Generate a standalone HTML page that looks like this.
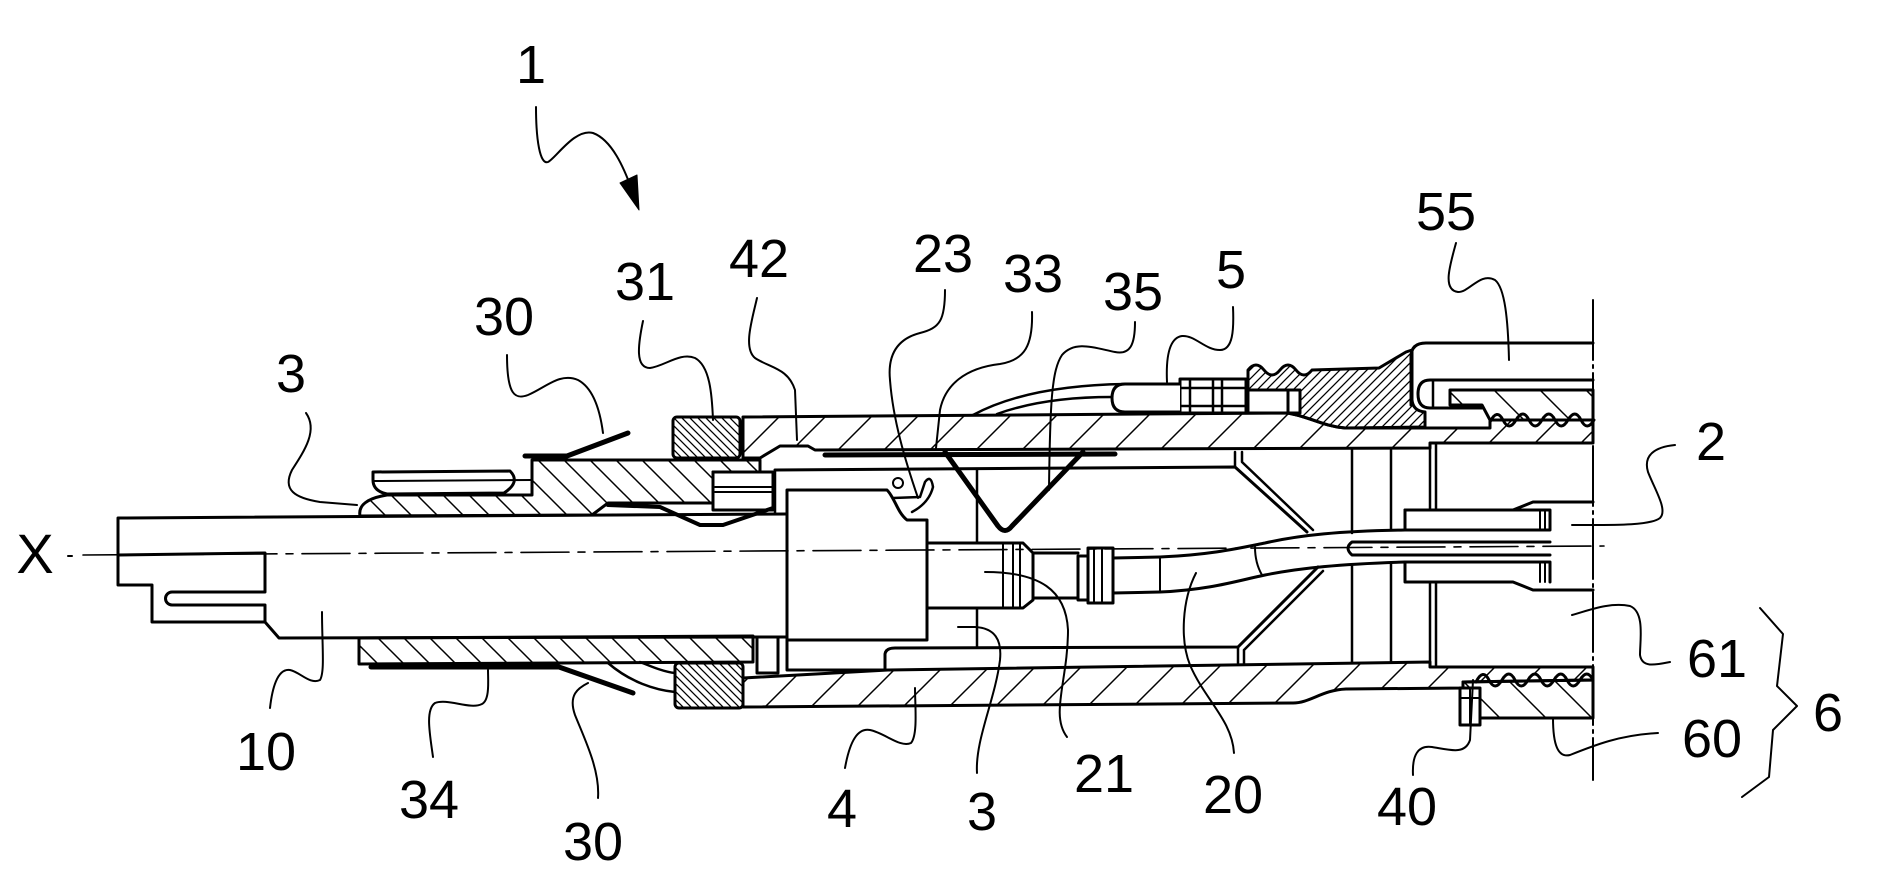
<!DOCTYPE html>
<html><head><meta charset="utf-8"><style>
html,body{margin:0;padding:0;background:#fff;}
svg{display:block;}
text{font-family:"Liberation Sans",Arial,sans-serif;font-size:54px;fill:#000;stroke:none;}
</style></head><body>
<svg width="1882" height="894" viewBox="0 0 1882 894" xmlns="http://www.w3.org/2000/svg">
<defs>
<pattern id="hf" width="46" height="46" patternUnits="userSpaceOnUse"><path d="M-4,4 L4,-4 M0,46 L46,0 M42,50 L50,42" stroke="#000" stroke-width="1.5"/></pattern>
<pattern id="hb" width="46" height="46" patternUnits="userSpaceOnUse"><path d="M0,0 L46,46 M-4,42 L4,50 M42,-4 L50,4" stroke="#000" stroke-width="1.5"/></pattern>
<pattern id="hs" width="26" height="26" patternUnits="userSpaceOnUse"><path d="M0,0 L26,26 M-4,22 L4,30 M22,-4 L30,4" stroke="#000" stroke-width="1.5"/></pattern>
<pattern id="db" width="8" height="8" patternUnits="userSpaceOnUse"><path d="M0,0 L8,8 M-2,6 L2,10 M6,-2 L10,2" stroke="#000" stroke-width="1.3"/></pattern>
<pattern id="df" width="9" height="9" patternUnits="userSpaceOnUse"><path d="M-2,2 L2,-2 M0,9 L9,0 M7,11 L11,7" stroke="#000" stroke-width="1.3"/></pattern>
</defs>
<rect width="1882" height="894" fill="#fff"/>

<g fill="none" stroke="#000" stroke-width="3" stroke-linejoin="round" stroke-linecap="round">
<!-- hatched regions -->
<path fill="url(#hs)" d="M360,516 Q357,500 387,495 L532,495 L532,460 L760,460 L760,472 L713,472 L713,503 L608,503 L592,515 Z"/>
<path fill="url(#hf)" d="M743,417 L1287,413 C1308,416 1322,426 1345,428 L1490,428 L1490,420 L1593,420 L1593,443 L1430,443 L1430,448 L815,450 L808,446 L780,446 L760,458 L743,458 Z"/>
<path fill="url(#df)" d="M1248,413 L1248,370 Q1256,360 1264,370 T1280,370 T1296,370 T1312,370 L1379,368 L1406,352 L1412,350 L1412,400 Q1413,411 1425,412 L1425,427 L1345,428 C1322,426 1308,416 1287,413 Z"/>
<path fill="url(#hb)" d="M1450,390 L1593,390 L1593,420 L1490,420 L1482,405 L1450,405 Z"/>
<path fill="url(#hf)" d="M743,678 L888,670 L1430,662 L1430,667 L1593,667 L1593,680 L1463,682 L1463,688 L1346,689 C1322,690 1310,703 1293,703 L743,707 Z"/>
<path fill="url(#hb)" d="M1463,682 L1593,680 L1593,718 L1463,718 Z"/>
<path fill="url(#hs)" d="M359,638 L753,636 L753,662 L359,664 Z"/>
<rect x="673" y="417" width="67" height="41" rx="4" fill="url(#db)"/>
<rect x="675" y="663" width="68" height="45" rx="4" fill="url(#db)"/>

<!-- tube 10 -->
<path d="M787,514 L118,518 L118,585 L152,585 L152,622 L265,622 L279,638 L787,637"/>
<path d="M118,555 L265,553 L265,592 L172,592 A6.5,6.5 0 0 0 172,605 L265,605 L265,622"/>

<!-- upper plate -->
<path fill="#fff" d="M373,472 L510,471 Q521,482 504,493 L387,494 Q373,491 373,480 Z"/>
<path stroke-width="2" d="M373,481 L532,480"/>

<!-- lug -->
<rect x="713" y="472" width="60" height="38" fill="#fff"/>
<path stroke-width="2" d="M715,487 L773,487 M715,492 L773,492"/>

<!-- nut details -->
<rect x="1248" y="390" width="52" height="23" fill="#fff"/>
<path d="M1288,390 L1288,413"/>
<rect x="1180" y="379" width="66" height="34" fill="#fff"/>
<path stroke-width="2.5" d="M1190,379 L1190,413 M1213,379 L1213,413 M1222,379 L1222,413 M1180,388 L1246,388 M1180,406 L1246,406"/>
<path fill="#fff" d="M1180,384 L1125,384 Q1112,384 1112,398 Q1112,412 1125,412 L1180,412"/>
<path stroke-width="2.5" d="M973,415 C1010,395 1060,385 1125,384 M997,414 C1030,402 1070,397 1112,397"/>

<!-- part 55 -->
<path d="M1411,405 L1411,357 Q1411,343 1426,343 L1593,343"/>
<path d="M1593,380 L1430,380 Q1418,380 1418,394 Q1418,408 1430,408 L1482,408"/>
<path stroke-width="2.5" d="M1433,381 L1433,408"/>
<path d="M1490,422 Q1497,408 1503,420 T1516,420 T1529,420 T1542,420 T1555,420 T1568,420 T1581,420 T1594,420"/>
<path d="M1476,682 Q1483,668 1489,680 T1502,680 T1515,680 T1528,680 T1541,680 T1554,680 T1567,680 T1580,680 T1593,680"/>
<rect x="1460" y="688" width="20" height="37" fill="#fff"/>
<path stroke-width="2" d="M1470,688 L1470,725 M1460,698 L1480,698"/>

<!-- thick springs -->
<path stroke-width="5" d="M371,667 L559,667 L633,693"/>
<path stroke-width="5" d="M525,456 L567,456 L628,433"/>
<path stroke-width="4" d="M608,505 L660,507 L700,525 L723,525 L773,508"/>
<path stroke-width="5" d="M825,455 L1115,454"/>
<path stroke-width="5" d="M945,452 L998,526 Q1005,535 1012,526 L1083,452"/>

<!-- curves to lower ring -->
<path stroke-width="2.5" d="M608,663 C630,682 655,690 675,692 M640,662 C655,668 665,672 675,673"/>

<!-- lower small box and ledge -->
<rect x="757" y="637" width="21" height="36" fill="#fff"/>
<path d="M787,640 L787,670 L885,670 L885,654 Q886,648 895,648 L1238,647 L1318,567"/>
<path stroke-width="2.5" d="M1238,647 L1238,663 M1244,650 L1244,664 M1244,650 L1323,571"/>
<path d="M775,470 L1235,467 L1307,532"/>
<path stroke-width="2.5" d="M1235,452 L1235,467 M1242,452 L1242,462 L1313,530"/>
<path stroke-width="2.5" d="M775,470 L775,513"/>

<!-- box -->
<path fill="#fff" d="M787,490 L887,490 C895,498 897,512 907,520 L927,520 L927,640 L787,640 Z"/>
<circle cx="898" cy="483" r="5" stroke-width="2"/>
<path stroke-width="2.5" d="M893,498 L920,497 L925,482 Q931,474 933,487 Q929,503 912,512"/>

<!-- contact 21 -->
<path d="M927,543 L1023,543 L1033,553 L1033,600 L1023,608 L927,608"/>
<path stroke-width="2" d="M1003,543 L1003,608 M1013,543 L1013,608 M1020,543 L1020,608"/>
<path d="M1033,553 L1078,553 M1033,598 L1078,598"/>
<rect x="1078" y="556" width="10" height="44"/>
<rect x="1088" y="548" width="25" height="55"/>
<path stroke-width="2" d="M1094,548 L1094,603 M1102,548 L1102,603"/>
<path stroke-width="2.5" d="M977,470 L977,543 M977,608 L977,647"/>

<!-- cable 20 -->
<path d="M1113,558 L1160,557 C1210,555 1240,548 1265,543 C1300,535 1340,531 1405,530"/>
<path d="M1113,593 L1160,592 C1210,590 1240,580 1265,575 C1300,568 1340,564 1405,562"/>
<path stroke-width="2" d="M1160,557 L1160,592 M1255,547 Q1255,563 1262,575"/>
<path d="M1550,542 L1352,542 Q1344,548 1352,555 L1550,555"/>
<path d="M1405,510 L1513,510 L1533,502 L1593,502"/>
<path d="M1405,510 L1405,530 L1550,530 L1550,510 L1513,510"/>
<path d="M1405,562 L1405,582 L1513,582 L1533,590 L1593,590"/>
<path d="M1405,562 L1550,562 L1550,582"/>
<path stroke-width="2" d="M1540,510 L1540,530 M1545,510 L1545,530 M1540,562 L1540,582 M1545,562 L1545,582"/>

<!-- verticals -->
<path stroke-width="2.5" d="M1352,450 L1352,533 M1352,565 L1352,662 M1391,450 L1391,530 M1391,563 L1391,661 M1430,443 L1430,510 M1436,443 L1436,510 M1430,582 L1430,667 M1436,582 L1436,667"/>

<!-- cut line -->
<path stroke-width="2" stroke-dasharray="60 5 3 5" d="M1593,300 L1593,780"/>
<!-- axis -->
<path stroke-width="1.6" stroke-dasharray="48 9 7 9" d="M83,555 L1604,546"/>
<path stroke-width="2" d="M68,556 L72,556"/>

<!-- leaders -->
<g stroke-width="2">
<path d="M536,107 C536,140 540,165 548,162 C556,158 575,128 593,133 C612,140 624,168 632,190"/>
<path d="M306,413 C318,430 305,450 292,470 C282,490 295,498 320,502 L357,505"/>
<path d="M507,355 C507,395 515,400 528,395 C545,388 560,372 578,380 C593,388 600,410 603,433"/>
<path d="M643,321 C638,345 635,368 650,368 C665,366 680,352 695,358 C710,366 712,395 713,420"/>
<path d="M757,298 C752,320 743,348 755,358 C770,368 788,368 795,390 L797,440"/>
<path d="M945,290 C945,320 940,328 920,333 C893,340 888,360 890,380 C893,420 905,460 918,498"/>
<path d="M1032,312 C1033,345 1025,360 1000,364 C965,368 945,385 940,410 L936,448"/>
<path d="M1135,322 C1135,345 1130,355 1115,352 C1095,348 1075,340 1062,355 C1052,370 1050,400 1049,490"/>
<path d="M1233,307 C1234,330 1233,350 1220,350 C1205,350 1195,335 1182,336 C1168,338 1166,360 1167,382"/>
<path d="M1456,243 C1450,265 1442,290 1458,292 C1470,292 1480,272 1495,280 C1505,288 1508,320 1509,360"/>
<path d="M1675,445 C1655,447 1643,455 1648,472 C1655,490 1668,510 1660,518 C1650,526 1610,525 1572,525"/>
<path d="M1670,662 C1655,665 1642,668 1640,655 C1640,640 1645,612 1630,606 C1610,602 1590,610 1572,615"/>
<path d="M1760,608 L1783,634 L1777,686 L1797,706 L1773,730 L1769,777 L1742,797"/>
<path d="M1658,733 C1620,735 1595,745 1570,755 C1558,758 1553,745 1553,718"/>
<path d="M1413,775 C1412,755 1418,745 1432,747 C1450,750 1465,755 1470,740 L1473,680"/>
<path d="M1196,573 C1182,600 1180,640 1190,665 C1205,700 1232,720 1234,753"/>
<path d="M985,572 C1040,572 1066,590 1068,630 C1068,680 1050,715 1067,737"/>
<path d="M958,627 L975,627 C995,628 1002,640 1000,660 C995,700 975,740 977,773"/>
<path d="M845,768 C850,740 858,728 870,730 C885,733 900,748 911,743 C918,735 915,705 915,688"/>
<path d="M598,798 C600,770 585,740 575,715 C568,695 578,688 588,683"/>
<path d="M433,757 C430,735 425,710 435,703 C448,698 470,710 482,704 C490,700 488,680 488,670"/>
<path d="M270,708 C272,690 277,668 290,670 C300,672 310,685 320,680 C325,672 322,645 322,612"/>
</g>
<path fill="#000" stroke-width="1" d="M620,183 L637,175 L639,210 Z"/>
</g>

<!-- labels -->
<g text-anchor="middle">
<text x="531" y="83">1</text>
<text x="291" y="392">3</text>
<text x="504" y="335">30</text>
<text x="645" y="300">31</text>
<text x="759" y="277">42</text>
<text x="943" y="272">23</text>
<text x="1033" y="292">33</text>
<text x="1133" y="310">35</text>
<text x="1231" y="288">5</text>
<text x="1446" y="230">55</text>
<text x="1711" y="460">2</text>
<text x="1717" y="677">61</text>
<text x="1828" y="731">6</text>
<text x="1712" y="757">60</text>
<text x="1407" y="825">40</text>
<text x="1233" y="813">20</text>
<text x="1104" y="792">21</text>
<text x="982" y="830">3</text>
<text x="842" y="827">4</text>
<text x="593" y="860">30</text>
<text x="429" y="818">34</text>
<text x="266" y="770">10</text>
<text x="35" y="573" style="font-size:56px">X</text>
</g>
</svg>
</body></html>
